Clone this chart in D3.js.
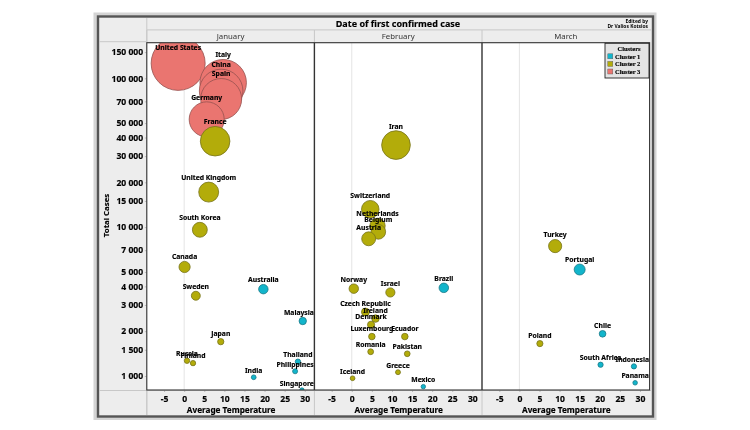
<!DOCTYPE html>
<html><head><meta charset="utf-8">
<script src="https://cdn.jsdelivr.net/npm/d3@7"></script>
<style>html,body{margin:0;padding:0;background:#fff}svg{display:block;filter:blur(0.25px)}text{font-family:"Noto Sans",sans-serif}.bold{stroke:#000;stroke-width:.15px}</style>
</head><body><div id="c"></div>
<script>
const months = ["January","February","March"];
const names = ["United States","Italy","China","Spain","Germany","France","United Kingdom","South Korea","Canada","Sweden","Australia","Malaysia","Japan","Russia","Finland","India","Thailand","Philippines","Singapore",
"Iran","Switzerland","Netherlands","Belgium","Austria","Norway","Israel","Brazil","Czech Republic","Ireland","Denmark","Luxembourg","Ecuador","Romania","Pakistan","Greece","Iceland","Mexico",
"Turkey","Portugal","Chile","Poland","South Africa","Indonesia","Panama"];
const panelOf = [0,0,0,0,0,0,0,0,0,0,0,0,0,0,0,0,0,0,0,
1,1,1,1,1,1,1,1,1,1,1,1,1,1,1,1,1,1,
2,2,2,2,2,2,2];
const temperature = [-1.5,9.7,9.2,9.2,5.6,7.7,6.1,3.9,0.1,2.9,19.7,29.5,9.1,0.7,2.2,17.3,28.3,27.6,29.3,
11.0,4.6,6.4,6.6,4.2,0.5,9.6,22.9,3.4,5.9,4.8,5.0,13.2,4.7,13.8,11.5,0.2,17.8,
8.9,15.0,20.7,5.1,20.2,28.5,28.8];
const cases = [126000,93400,82200,72600,53000,37800,17200,9600,5400,3460,3830,2340,1700,1266,1220,980,1247,1075,805,
35600,13200,10200,9300,8350,3860,3640,3910,2690,2430,2210,1840,1840,1455,1410,1060,965,848,
7460,5190,1920,1650,1190,1160,900];
const cluster = [3,3,3,3,3,2,2,2,2,2,1,1,2,2,2,1,1,1,1,
2,2,2,2,2,2,2,1,2,2,2,2,2,2,2,2,2,1,
2,1,1,2,1,1,1];
const clusterNames = ["Cluster 1","Cluster 2","Cluster 3"];
const yTicks = [1000,1500,2000,3000,4000,5000,7000,10000,15000,20000,30000,40000,50000,70000,100000,150000];
const xTicks = [-5,0,5,10,15,20,25,30];

const W=750,H=430;
const panelW=167.6, left=146.8, plotTop=42.7, bottom=390;
const svg=d3.select("#c").append("svg").attr("width",W).attr("height",H);
const color=d3.scaleOrdinal().domain([1,2,3]).range(["#12b5cb","#b3ac0a","#ea7570"]);
const stroke=d3.scaleOrdinal().domain([1,2,3]).range(["#1a7a88","#77741a","#96524f"]);
const y=d3.scaleLog().domain([805,173500]).range([bottom,plotTop]);
const r=d3.scaleSqrt().domain([0,126000]).range([0,27]);
const x0=i=>d3.scaleLinear().domain([-9.3,32.4]).range([left+i*panelW,left+(i+1)*panelW]);
const fmt=v=>d3.format(",")(v).replace(/,/g," ");

// frame
svg.append("rect").attr("x",93.5).attr("y",12.5).attr("width",563).attr("height",407.5).attr("fill","#d4d4d4");
svg.append("rect").attr("x",98).attr("y",16.5).attr("width",555).attr("height",400).attr("fill","#ededed").attr("stroke","#555").attr("stroke-width",2.4);
svg.append("line").attr("x1",99).attr("x2",left).attr("y1",41.7).attr("y2",41.7).attr("stroke","#c8c8c8");
svg.append("line").attr("x1",left).attr("x2",left).attr("y1",18).attr("y2",415).attr("stroke","#c8c8c8");
svg.append("line").attr("x1",left).attr("x2",651).attr("y1",29.9).attr("y2",29.9).attr("stroke","#c8c8c8");
svg.append("line").attr("x1",99).attr("x2",651).attr("y1",390.5).attr("y2",390.5).attr("stroke","#c8c8c8");
svg.append("text").attr("x",398).attr("y",27.3).attr("text-anchor","middle").attr("font-size",9).attr("font-weight","bold").attr("class","bold").text("Date of first confirmed case");
svg.append("text").attr("x",648).attr("y",22.5).attr("text-anchor","end").attr("font-size",4.9).attr("font-weight","bold").text("Edited by");
svg.append("text").attr("x",648).attr("y",28).attr("text-anchor","end").attr("font-size",4.9).attr("font-weight","bold").text("Dr Valios Kotsios");

months.forEach((m,i)=>{
  const x=x0(i), L=left+i*panelW;
  svg.append("rect").attr("x",L).attr("y",plotTop).attr("width",panelW).attr("height",bottom-plotTop).attr("fill","#fff");
  svg.append("line").attr("x1",L).attr("x2",L).attr("y1",30).attr("y2",42).attr("stroke","#c8c8c8");
  svg.append("line").attr("x1",L).attr("x2",L).attr("y1",390).attr("y2",415).attr("stroke","#c8c8c8");
  svg.append("text").attr("x",L+panelW/2).attr("y",39.4).attr("text-anchor","middle").attr("font-size",7.8).attr("fill","#333").text(m);
  svg.append("line").attr("x1",x(0)).attr("x2",x(0)).attr("y1",plotTop).attr("y2",bottom).attr("stroke","#e4e4e4");
  const ax=d3.axisBottom(x).tickValues(xTicks).tickFormat(v=>String(v)).tickSize(2).tickPadding(3.5);
  const g=svg.append("g").attr("transform",`translate(0,${bottom})`).call(ax);
  g.select(".domain").remove();
  g.selectAll("line").attr("stroke","#bbb");
  g.selectAll("text").attr("font-size",8.6).attr("font-weight","bold").attr("fill","#000").attr("class","bold").style("font-family","'Noto Sans'");
  svg.append("text").attr("x",L+panelW/2+.5).attr("y",412.5).attr("text-anchor","middle").attr("font-size",8.2).attr("font-weight","bold").attr("fill","#000").attr("class","bold").text("Average Temperature");
});

// y axis
const ay=d3.axisLeft(y).tickValues(yTicks).tickFormat(fmt).tickSize(2).tickPadding(1.6);
const gy=svg.append("g").attr("transform",`translate(${left},0)`).call(ay);
gy.select(".domain").remove();
gy.selectAll("line").attr("stroke","#bbb");
gy.selectAll("text").attr("font-size",8.6).attr("font-weight","bold").attr("fill","#000").attr("class","bold").style("font-family","'Noto Sans'");
svg.append("text").attr("transform",`translate(109,215.5) rotate(-90)`).attr("text-anchor","middle").attr("font-size",7.8).attr("font-weight","bold").attr("fill","#000").attr("class","bold").text("Total Cases");

// clip + marks
const defs=svg.append("defs");
months.forEach((m,i)=>defs.append("clipPath").attr("id","p"+i).append("rect").attr("x",left+i*panelW).attr("y",plotTop).attr("width",panelW).attr("height",bottom-plotTop));
const data=names.map((n,i)=>({n,p:panelOf[i],t:temperature[i],c:cases[i],k:cluster[i]}));
months.forEach((m,i)=>{
  const x=x0(i);
  const rows=data.filter(d=>d.p===i).sort((a,b)=>b.c-a.c);
  const g=svg.append("g").attr("clip-path",`url(#p${i})`);
  g.selectAll("circle").data(rows).join("circle")
    .attr("cx",d=>x(d.t)).attr("cy",d=>y(d.c)).attr("r",d=>r(d.c))
    .attr("fill",d=>color(d.k)).attr("stroke",d=>stroke(d.k)).attr("stroke-width",.8);
  const R=left+(i+1)*panelW;
  svg.append("g").selectAll("text").data(rows).join("text")
    .attr("text-anchor","middle").attr("font-size",6.8).attr("font-weight","bold").attr("fill","#000").attr("class","bold")
    .text(d=>d.n)
    .attr("y",d=>Math.max(plotTop+7.3,y(d.c)-r(d.c)-2.1))
    .attr("x",function(d){const w=this.getComputedTextLength();return Math.min(x(d.t),R-w/2-.5);});
});

// panel borders
svg.append("rect").attr("x",left).attr("y",plotTop).attr("width",panelW*3).attr("height",bottom-plotTop).attr("fill","none").attr("stroke","#333").attr("stroke-width",1.1);
[1,2].forEach(i=>svg.append("line").attr("x1",left+i*panelW).attr("x2",left+i*panelW).attr("y1",plotTop).attr("y2",bottom).attr("stroke","#333").attr("stroke-width",1.4));

// legend
const lg=svg.append("g").attr("transform","translate(605,43.3)");
lg.append("rect").attr("width",44).attr("height",34.7).attr("fill","#e4e4e4").attr("stroke","#222").attr("stroke-width",.9);
lg.append("text").attr("x",24).attr("y",7.8).attr("text-anchor","middle").attr("font-size",6.5).attr("font-weight","bold").attr("class","bold").style("font-family","'Liberation Serif'").text("Clusters");
clusterNames.forEach((c,i)=>{
  lg.append("rect").attr("x",2.8).attr("y",10.5+i*7.6).attr("width",5).attr("height",5).attr("fill",color(i+1)).attr("stroke","#555").attr("stroke-width",.4);
  lg.append("text").attr("x",10).attr("y",15.5+i*7.6).attr("font-size",6.5).attr("font-weight","bold").attr("class","bold").style("font-family","'Liberation Serif'").text(c);
});
</script></body></html>
